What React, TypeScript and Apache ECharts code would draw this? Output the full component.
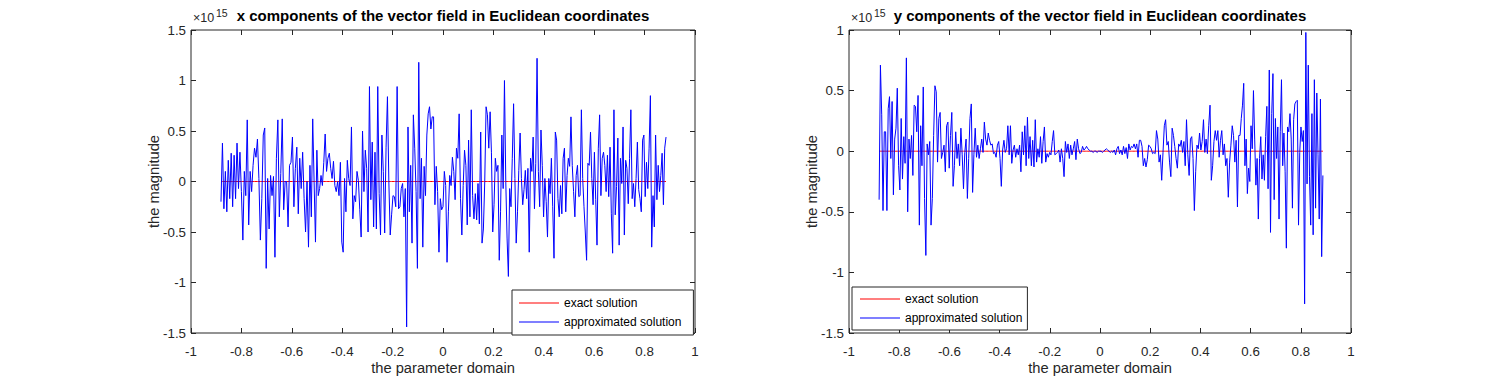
import React, { useEffect, useRef } from "react";
import * as echarts from "echarts";

// ---- data (values in units of 1e15) ----
const legendNames = ["exact solution", "approximated solution"];
const seriesColors = ["#ff0000", "#0000ff"];
const titles = [
  "x components of the vector field in Euclidean coordinates",
  "y components of the vector field in Euclidean coordinates",
];
const yMaxes = [1.5, 1];

// plot 1 segment bounds along the parameter domain
const p1Bounds = [-0.881, -0.528, -0.171, 0.187, 0.544, 0.885];
const p1s1 = [-0.20,0.38,-0.27,0.10,-0.30,0.21,-0.17,0.28,-0.25,0.26,-0.17,0.38,-0.07,0.29,-0.10,-0.58,0.10,-0.14,0.61,-0.43,0.10,-0.10,0.16,0.33,0.24,0.42,0.03,-0.58,-0.17,0.46,0.53,-0.86,0.03,-0.47,0.06,-0.14,0.05,-0.75,0.23,0.61,-0.35,0.08,0.62,-0.28,0.00,0.00,-0.45,0.16,0.19,0.44,-0.25,0.13,0.34,-0.32,0.23,-0.07,0.29,-0.17,-0.50,0.00,-0.65];
const p1s2 = [0.16,-0.35,0.62,0.00,-0.60,0.31,-0.14,-0.07,0.06,-0.04,0.19,0.47,0.10,0.23,0.28,0.13,0.03,0.20,-0.04,-0.10,0.00,-0.14,0.19,-0.60,-0.70,0.03,-0.30,0.21,0.03,-0.04,0.54,-0.37,-0.14,-0.20,0.10,0.01,-0.28,-0.55,0.50,-0.10,0.31,0.13,-0.50,0.94,-0.18,0.39,-0.45,0.29,-0.47,0.94,-0.12,-0.53,0.46,0.10,-0.51,0.34,0.84,0.00,-0.53,-0.33,-0.14,-0.15,-0.25,0.94,-0.27];
const p1s3 = [-0.25,-0.07,-0.02,-0.35,-0.07,-1.44,0.54,-0.30,0.16,-0.61,0.66,0.33,-0.10,-0.86,1.18,-0.17,0.23,-0.65,0.15,-0.14,0.46,0.67,0.74,0.52,0.64,0.64,-0.23,0.15,-0.10,-0.70,-0.17,-0.28,-0.25,0.10,-0.04,-0.80,-0.30,0.06,-0.04,0.24,0.10,-0.18,0.33,0.23,0.67,-0.17,-0.53,-0.04,0.31,0.16,-0.43,0.41,-0.35,0.71,-0.14,-0.37,-0.12,-0.38,-0.02,-0.42,0.49,-0.61,-0.47,0.00,0.74,0.66,0.33];
const p1s4 = [0.69,0.29,-0.50,-0.23,0.23,0.10,0.16,-0.78,-0.30,0.46,-0.07,1.00,0.00,-0.56,-0.94,-0.07,-0.25,0.23,0.77,0.03,-0.61,-0.30,0.11,0.48,0.03,-0.23,-0.08,0.11,-0.17,0.13,-0.70,0.23,0.10,0.44,-0.27,0.18,1.22,0.10,-0.25,0.51,0.16,-0.35,0.03,-0.20,-0.55,0.03,-0.12,0.23,-0.25,-0.76,0.49,0.41,-0.17,-0.35,-0.04,-0.32,0.23,0.33,-0.30,0.06,0.23,0.15,0.64,0.16,-0.10,-0.35,0.06,0.16,-0.15];
const p1s5 = [-0.14,0.71,0.03,-0.25,-0.50,-0.78,0.18,0.16,0.49,0.03,-0.23,0.29,-0.18,-0.63,0.33,0.66,-0.14,0.23,0.29,0.16,-0.10,0.26,-0.15,0.34,-0.32,-0.71,0.71,-0.33,-0.05,0.43,-0.63,0.23,-0.02,0.54,-0.53,0.21,0.13,-0.22,0.23,0.71,-0.17,-0.02,-0.25,0.03,0.39,-0.08,-0.17,-0.30,0.41,0.46,-0.15,0.19,-0.07,0.33,0.85,-0.65,-0.14,-0.45,0.46,-0.18,0.16,-0.10,0.06,0.28,-0.23,0.33,0.44];

// plot 2 segment bounds
const p2Bounds = [-0.880, -0.518, -0.159, 0.199, 0.558, 0.888];
const p2s1 = [-0.40,0.71,0.30,-0.49,0.16,0.16,-0.49,0.35,0.45,-0.06,0.41,-0.36,0.10,0.19,0.52,-0.12,-0.32,0.27,-0.23,0.12,-0.10,0.77,-0.50,0.10,-0.06,0.13,-0.20,0.38,0.37,0.16,0.46,-0.61,0.21,-0.12,0.53,-0.39,-0.86,0.06,-0.03,0.08,-0.61,-0.39,0.13,0.54,0.49,-0.09,0.27,0.32,-0.06,-0.01,0.05,-0.17,0.21,0.24,-0.14,0.13,0.32,-0.29,-0.12,0.16,-0.06,0.06,-0.12,0.19,-0.03,-0.31,-0.01,0.10,-0.39,-0.06];
const p2s2 = [0.27,0.39,-0.34,-0.03,0.19,-0.05,0.05,-0.06,0.02,0.10,-0.01,0.24,0.10,0.05,0.15,0.09,0.05,0.06,-0.02,-0.01,-0.05,0.05,0.08,-0.06,-0.29,0.01,0.09,-0.01,0.02,0.21,-0.03,0.21,-0.10,0.01,0.05,-0.05,0.02,-0.03,0.05,-0.17,0.16,-0.03,0.21,-0.12,0.28,-0.06,0.12,-0.12,0.09,-0.13,0.26,-0.09,0.02,-0.05,0.12,-0.10,0.08,0.20,-0.09,-0.02,-0.05,-0.01,-0.03,0.08,0.17,-0.03,-0.02,-0.01,0.01];
const p2s3 = [-0.09,0.02,-0.06,-0.21,0.08,-0.01,0.06,-0.06,0.05,-0.03,0.02,0.08,-0.07,0.10,0.02,-0.02,-0.01,0.04,0.01,0.02,0.04,0.02,0.01,0.00,0.00,-0.01,0.00,0.00,-0.01,0.00,0.00,0.00,-0.01,0.00,0.01,0.02,0.01,0.00,-0.01,0.00,-0.01,0.01,-0.03,0.02,0.04,-0.02,0.01,-0.03,0.04,-0.02,0.03,-0.06,0.06,0.01,0.04,0.03,0.06,0.02,0.06,-0.05,0.09,0.09,0.04,-0.12,-0.06,-0.13,-0.07,0.05];
const p2s4 = [0.04,0.02,-0.02,-0.01,-0.02,0.17,0.10,-0.09,-0.03,-0.24,-0.01,0.21,0.26,0.05,0.08,-0.09,-0.21,0.19,0.13,0.04,-0.06,-0.14,0.06,0.04,0.09,-0.01,0.08,-0.12,0.26,-0.03,-0.20,0.10,0.12,-0.06,-0.49,-0.17,0.05,0.02,0.15,0.01,0.08,0.26,-0.01,0.10,-0.02,0.21,0.38,-0.24,-0.12,0.08,0.17,0.09,0.17,-0.05,0.09,0.17,-0.03,0.06,-0.12,-0.06,-0.38,-0.09,0.05,0.21,0.13,-0.09,0.09,-0.46,0.13];
const p2s5 = [0.13,0.27,0.38,0.56,-0.12,0.10,-0.35,-0.14,-0.25,0.21,0.02,0.50,0.10,-0.28,-0.06,-0.56,-0.06,0.12,-0.23,-0.03,-0.24,0.12,0.37,-0.31,0.67,-0.67,0.31,0.64,-0.40,0.27,-0.06,0.20,-0.56,0.16,0.59,-0.12,0.15,-0.17,-0.80,0.20,0.16,0.31,0.10,-0.47,0.26,0.39,0.41,0.42,-0.61,-0.01,0.20,0.08,0.17,-1.26,0.98,-0.27,0.71,-0.21,-0.61,0.31,-0.69,0.59,-0.47,0.48,-0.03,-0.56,0.43,-0.87,-0.20];

const FONT = '"Liberation Sans", Arial, Helvetica, sans-serif';
const AX = "#262626";
const LINE_ICON = "path://M0,0L40,0L40,1L0,1Z";

function buildSeries(bounds: number[], segs: number[][]): number[][] {
  const out: number[][] = [];
  segs.forEach((seg, k) => {
    const a = bounds[k];
    const b = bounds[k + 1];
    const last = k === segs.length - 1;
    const n = last ? seg.length - 1 : seg.length;
    seg.forEach((v, i) => out.push([a + ((b - a) * i) / n, v]));
  });
  return out;
}

const fmt = (v: number) => {
  const r = Math.round(v * 10) / 10;
  return String(r === 0 ? 0 : r);
};

export default function App() {
  const ref = useRef<HTMLDivElement>(null);
  useEffect(() => {
    if (!ref.current) return;
    const chart = echarts.init(ref.current, undefined, { renderer: "svg" });
    const approx1 = buildSeries(p1Bounds, [p1s1, p1s2, p1s3, p1s4, p1s5]);
    const approx2 = buildSeries(p2Bounds, [p2s1, p2s2, p2s3, p2s4, p2s5]);
    const exact1 = approx1.map((p) => [p[0], 0]);
    const exact2 = approx2.map((p) => [p[0], 0]);

    const grids = [
      { left: 191, top: 30, width: 504, height: 303 },
      { left: 849, top: 30, width: 502, height: 303 },
    ];

    const tick = { show: true, inside: true, length: 5, lineStyle: { color: AX, width: 1 } };
    const noLine = { show: false, onZero: false };
    const xAxes: any[] = [];
    const yAxes: any[] = [];
    grids.forEach((_, k) => {
      xAxes.push({
        gridIndex: k, type: "value", min: -1, max: 1, interval: 0.2, position: "bottom",
        axisLine: noLine, axisTick: tick, splitLine: { show: false },
        axisLabel: { color: AX, fontSize: 13.3, fontFamily: FONT, margin: 12, formatter: fmt },
        name: "the parameter domain", nameLocation: "middle", nameGap: 27, nameMoveOverlap: false,
        nameTextStyle: { color: AX, fontSize: 14.7, fontFamily: FONT },
      });
      xAxes.push({
        gridIndex: k, type: "value", min: -1, max: 1, interval: 0.2, position: "top",
        axisLine: noLine, axisTick: tick, splitLine: { show: false },
        axisLabel: { show: false },
      });
      yAxes.push({
        gridIndex: k, type: "value", min: -1.5, max: yMaxes[k], interval: 0.5, position: "left",
        axisLine: noLine, axisTick: tick, splitLine: { show: false },
        axisLabel: { color: AX, fontSize: 13.3, fontFamily: FONT, margin: 5, formatter: fmt },
        name: "the magnitude", nameLocation: "middle", nameGap: 30, nameMoveOverlap: false,
        nameTextStyle: { color: AX, fontSize: 14.7, fontFamily: FONT },
      });
      yAxes.push({
        gridIndex: k, type: "value", min: -1.5, max: yMaxes[k], interval: 0.5, position: "right",
        axisLine: noLine, axisTick: tick, splitLine: { show: false },
        axisLabel: { show: false },
      });
    });

    const mkLine = (name: string, data: number[][], k: number, color: string) => ({
      name, type: "line", data, xAxisIndex: k * 2, yAxisIndex: k * 2,
      symbol: "none", showSymbol: false, lineStyle: { color, width: 1 }, itemStyle: { color },
      emphasis: { disabled: true }, silent: true,
    });

    const legendBase = {
      data: legendNames.map((name, i) => ({ name, icon: LINE_ICON, itemStyle: { color: seriesColors[i] } })),
      orient: "vertical", selectedMode: false,
      itemWidth: 40, itemHeight: 14,
      borderColor: AX, borderWidth: 1, borderRadius: 0, backgroundColor: "#fff",
      textStyle: { color: "#000", fontSize: 12, lineHeight: 14, fontFamily: FONT },
    };

    const expo = (x: number) => [
      { type: "text", x, y: 18, style: { text: "×10", font: `12.5px ${FONT}`, fill: AX, textVerticalAlign: "middle", verticalAlign: "middle" } },
      { type: "text", x: x + 23, y: 13, style: { text: "15", font: `10.5px ${FONT}`, fill: AX, textVerticalAlign: "middle", verticalAlign: "middle" } },
    ];

    chart.setOption({
      animation: false,
      backgroundColor: "#fff",
      grid: grids.map((g) => ({
        ...g, show: true, borderColor: AX, borderWidth: 1, backgroundColor: "transparent",
        containLabel: false, outerBoundsMode: "none",
      })),
      xAxis: xAxes,
      yAxis: yAxes,
      legend: [
        { ...legendBase, left: 512, top: 290, padding: [6, 12, 6, 7], itemGap: 5 },
        { ...legendBase, left: 852, top: 287, padding: [5, 5, 5, 8], itemGap: 5 },
      ],
      series: [
        mkLine(legendNames[0], exact1, 0, seriesColors[0]),
        mkLine(legendNames[1], approx1, 0, seriesColors[1]),
        mkLine(legendNames[0], exact2, 1, seriesColors[0]),
        mkLine(legendNames[1], approx2, 1, seriesColors[1]),
      ],
      graphic: [
        { type: "text", x: 443, y: 15, style: { text: titles[0], font: `bold 15px ${FONT}`, fill: "#000", textAlign: "center", align: "center", textVerticalAlign: "middle", verticalAlign: "middle" } },
        { type: "text", x: 1100, y: 15, style: { text: titles[1], font: `bold 15px ${FONT}`, fill: "#000", textAlign: "center", align: "center", textVerticalAlign: "middle", verticalAlign: "middle" } },
        ...expo(193),
        ...expo(851),
      ],
    });
    return () => chart.dispose();
  }, []);
  return (
    <div
      ref={ref}
      style={{ position: "fixed", left: 0, top: 0, width: 1492, height: 376, background: "#fff" }}
    />
  );
}
